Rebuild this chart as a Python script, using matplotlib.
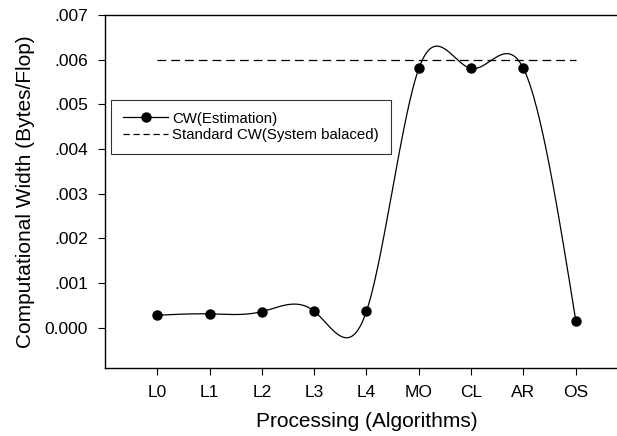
import numpy as np
import matplotlib.pyplot as plt
from matplotlib.ticker import FuncFormatter

plt.rcParams['font.family'] = ['Liberation Sans', 'DejaVu Sans']

categories = ["L0", "L1", "L2", "L3", "L4", "MO", "CL", "AR", "OS"]
cw_estimation = [0.00028, 0.00031, 0.00036, 0.00037, 0.00037, 0.0058, 0.0058, 0.0058, 0.00016]
cw_standard = 0.006


def natural_spline(x, y, n=400):
    x = np.asarray(x, float)
    y = np.asarray(y, float)
    k = len(x)
    h = np.diff(x)
    A = np.zeros((k, k))
    b = np.zeros(k)
    A[0, 0] = 1
    A[-1, -1] = 1
    for i in range(1, k - 1):
        A[i, i - 1] = h[i - 1]
        A[i, i] = 2 * (h[i - 1] + h[i])
        A[i, i + 1] = h[i]
        b[i] = 3 * ((y[i + 1] - y[i]) / h[i] - (y[i] - y[i - 1]) / h[i - 1])
    c = np.linalg.solve(A, b)
    xs = np.linspace(x[0], x[-1], n)
    idx = np.clip(np.searchsorted(x, xs) - 1, 0, k - 2)
    dx = xs - x[idx]
    hi = h[idx]
    bi = (y[idx + 1] - y[idx]) / hi - hi * (2 * c[idx] + c[idx + 1]) / 3
    di = (c[idx + 1] - c[idx]) / (3 * hi)
    ys = y[idx] + bi * dx + c[idx] * dx ** 2 + di * dx ** 3
    return xs, ys


x = np.arange(1, len(categories) + 1)
xs, ys = natural_spline(x, cw_estimation)

fig = plt.figure(figsize=(6.17, 4.36), dpi=100)
ax = fig.add_axes([0.170, 0.156, 0.848, 0.810])

ax.plot(xs, ys, color="black", linewidth=0.9)
ax.plot(x, cw_estimation, "o", color="black", markersize=6.5)
ax.plot([x[0], x[-1]], [cw_standard, cw_standard], color="black", linewidth=0.9,
        linestyle=(0, (7, 4)))

# legend proxies
h1, = ax.plot([], [], color="black", linewidth=0.9, marker="o", markersize=6.5)
h2, = ax.plot([], [], color="black", linewidth=0.9, linestyle=(0, (5, 3)))
leg = ax.legend([h1, h2], ["CW(Estimation)", "Standard CW(System balaced)"],
                loc="upper left", bbox_to_anchor=(0.012, 0.76), fontsize=10.8,
                frameon=True, fancybox=False, numpoints=1, handlelength=3.0,
                handletextpad=0.25, borderpad=0.8, labelspacing=0.15, borderaxespad=0)
leg.get_frame().set_edgecolor("black")
leg.get_frame().set_linewidth(0.8)

ax.set_xlim(0, 10)
ax.set_ylim(-0.0009, 0.007)
ax.set_xticks(x)
ax.set_xticklabels(categories)
ax.set_yticks(np.arange(0, 0.0071, 0.001))
ax.yaxis.set_major_formatter(FuncFormatter(
    lambda v, p: "0.000" if abs(v) < 1e-9 else f"{v:.3f}".lstrip("0")))

ax.spines["right"].set_visible(False)
for s in ["left", "bottom", "top"]:
    ax.spines[s].set_linewidth(1.0)
ax.tick_params(direction="out", length=5, width=0.8, labelsize=12.5, pad=7)

ax.set_xlabel("Processing (Algorithms)", fontsize=15, labelpad=9)
ax.set_ylabel("Computational Width (Bytes/Flop)", fontsize=15, labelpad=7)

fig.savefig("out.png", dpi=100)
